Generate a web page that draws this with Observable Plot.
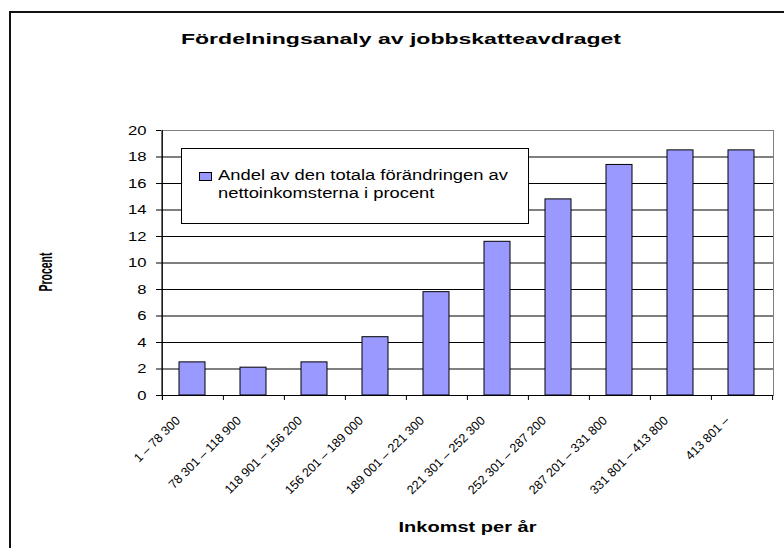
<!DOCTYPE html>
<html>
<head>
<meta charset="utf-8">
<script src="https://cdn.jsdelivr.net/npm/d3@7"></script>
<script src="https://cdn.jsdelivr.net/npm/@observablehq/plot@0.6"></script>
<style>
  html, body { margin: 0; padding: 0; background: #fff; overflow: hidden; }
  #wrap { position: relative; width: 784px; height: 548px; overflow: hidden; font-family: "Liberation Sans", Arial, sans-serif; }
  #border { position: absolute; left: 9px; top: 11px; width: 820px; height: 600px; border: 2px solid #111; box-sizing: border-box; }
  #title { position: absolute; left: 181px; top: 32px; white-space: nowrap; font-weight: bold; font-size: 14px; line-height: 14px; color: #000; }
  #title span { display: inline-block; transform-origin: 0 50%; }
  #chart { position: absolute; left: 0; top: 0; }
  #legend { position: absolute; left: 181px; top: 148px; width: 348px; height: 76px; box-sizing: border-box; border: 1px solid #000; background: #fff; font-size: 14px; line-height: 18px; color: #000; }
  #legend .sw { position: absolute; left: 17px; top: 23px; width: 11px; height: 7px; background: #9999ff; border: 1px solid #000; }
  #legend .tx { position: absolute; left: 36px; top: 17px; white-space: nowrap; transform-origin: 0 0; }
  #legend .tx span { display: inline-block; }
</style>
</head>
<body>
<div id="wrap">
  <div id="border"></div>
  <div id="chart"></div>
  <div id="title"><span></span></div>
  <div id="legend"><div class="sw"></div><div class="tx"></div></div>
</div>
<script>
const categories = [
  "1 – 78 300",
  "78 301 – 118 900",
  "118 901 – 156 200",
  "156 201 – 189 000",
  "189 001 – 221 300",
  "221 301 – 252 300",
  "252 301 – 287 200",
  "287 201 – 331 800",
  "331 801 – 413 800",
  "413 801 –"
];
const values = [2.5, 2.1, 2.5, 4.4, 7.8, 11.6, 14.8, 17.4, 18.5, 18.5];
const yTicks = [0, 2, 4, 6, 8, 10, 12, 14, 16, 18, 20];
const gridTicks = [2, 4, 6, 8, 10, 12, 14, 16, 18];
const legendLines = ["Andel av den totala förändringen av", "nettoinkomsterna i procent"];
const chartTitle = "Fördelningsanaly av jobbskatteavdraget";
const yLabel = "Procent";
const xLabel = "Inkomst per år";

const data = categories.map((c, i) => ({cat: c, value: values[i]}));

const W = 784, H = 548;
const mL = 161, mR = 11, mT = 130, mB = 153;
const bw = (W - mL - mR) / categories.length;
const frameH = H - mT - mB;
const font = "'Liberation Sans', Arial, sans-serif";

const plot = Plot.plot({
  width: W,
  height: H,
  marginLeft: mL,
  marginRight: mR,
  marginTop: mT,
  marginBottom: mB,
  style: {fontFamily: font, background: "transparent", color: "#000", overflow: "visible"},
  x: {type: "band", domain: categories, padding: 0, axis: null},
  y: {domain: [0, 20], axis: null},
  marks: [
    Plot.frame({stroke: "#808080"}),
    Plot.ruleY(gridTicks, {stroke: "#000", strokeWidth: 1}),
    Plot.barY(data, {x: "cat", y: "value", fill: "#9999ff", stroke: "#000", strokeWidth: 1, insetLeft: 17, insetRight: 18}),
    Plot.ruleY([0], {stroke: "#000", strokeWidth: 1}),
    Plot.ruleX(categories.slice(0, 1), {x: d => d, dx: -bw / 2, stroke: "#000", insetBottom: -5}),
    Plot.ruleX(categories, {x: d => d, dx: -bw / 2, stroke: "#000", insetTop: frameH, insetBottom: -5}),
    Plot.ruleX(categories.slice(-1), {x: d => d, dx: bw / 2, stroke: "#000", insetTop: frameH, insetBottom: -5}),
    Plot.axisY({ticks: yTicks, tickSize: 5, tickPadding: 10, fontSize: 13, tickFormat: d => String(d), anchor: "left", label: null, stroke: "#000"}),
    Plot.text(categories, {x: d => d, frameAnchor: "bottom", text: d => d, rotate: -45, textAnchor: "end", lineAnchor: "middle", dx: -15, dy: 23, fontSize: 12.5, letterSpacing: "0.3px", fill: "#000"}),
    Plot.text([yLabel], {frameAnchor: "left", text: d => d, rotate: -90, textAnchor: "middle", lineAnchor: "middle", dx: -116, dy: 9, fontWeight: "bold", fontSize: 10.5, fill: "#000"}),
    Plot.text([xLabel], {frameAnchor: "bottom", text: d => d, textAnchor: "middle", lineAnchor: "middle", dy: 132, fontWeight: "bold", fontSize: 14, fill: "#000"})
  ]
});
document.getElementById("chart").appendChild(plot);

// Horizontal stretch of the text, as in the reference rendering
function stretchX(el, s) {
  const t = el.getAttribute("transform");
  const m = t && t.match(/^\s*translate\([^)]*\)/);
  if (m) {
    el.setAttribute("transform", m[0] + ` scale(${s},1)` + t.slice(m[0].length));
  } else {
    el.setAttribute("textLength", el.getComputedTextLength() * s);
    el.setAttribute("lengthAdjust", "spacingAndGlyphs");
  }
}
const tickStrings = new Set(yTicks.map(String));
for (const el of plot.querySelectorAll("text")) {
  const s = el.textContent;
  if (tickStrings.has(s)) stretchX(el, 1.28);
  else if (s === yLabel) stretchX(el, 1.8);
  else if (s === xLabel) stretchX(el, 138 / el.getComputedTextLength());
}

// Title
const tspan = document.querySelector("#title span");
tspan.textContent = chartTitle;
const tw = tspan.getBoundingClientRect().width;
tspan.style.transform = `scaleX(${440 / tw})`;

// Legend
const tx = document.querySelector("#legend .tx");
tx.innerHTML = legendLines.map(l => `<div><span>${l}</span></div>`).join("");
const lw = tx.querySelector("span").getBoundingClientRect().width;
tx.style.transform = `scaleX(${290 / lw})`;
</script>
</body>
</html>
